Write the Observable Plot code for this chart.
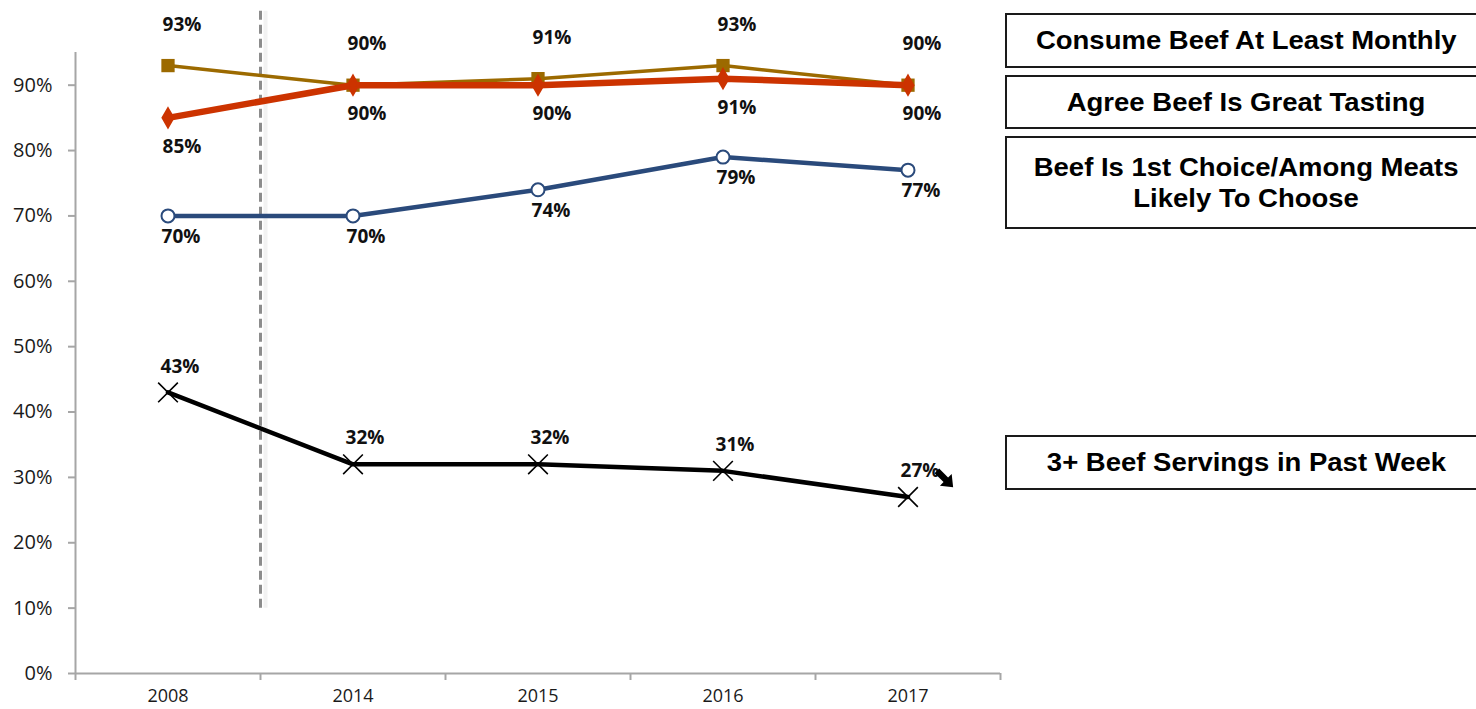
<!DOCTYPE html>
<html>
<head>
<meta charset="utf-8">
<script src="https://cdn.jsdelivr.net/npm/d3@7"></script>
<script src="https://cdn.jsdelivr.net/npm/@observablehq/plot@0.6"></script>
<style>
  html, body { margin: 0; padding: 0; background: #fff; }
  #wrap { position: relative; width: 1476px; height: 709px; overflow: hidden; }
  .box { position: absolute; box-sizing: border-box; border: 2px solid #1a1a1a; background: #fff;
         font-family: "Liberation Sans", Arial, sans-serif; font-weight: bold; font-size: 25px; color: #000;
         display: flex; align-items: center; justify-content: center; text-align: center; line-height: 31px; }
  .box span { display: inline-block; transform: scaleX(1.1); }
</style>
</head>
<body>
<div id="wrap"></div>
<script>
// ---- data ----
const years = ["2008", "2014", "2015", "2016", "2017"];
const consumeMonthly = [0.93, 0.90, 0.91, 0.93, 0.90];
const greatTasting   = [0.85, 0.90, 0.90, 0.91, 0.90];
const firstChoice    = [0.70, 0.70, 0.74, 0.79, 0.77];
const servings3      = [0.43, 0.32, 0.32, 0.31, 0.27];
const yTicks = [0, 0.1, 0.2, 0.3, 0.4, 0.5, 0.6, 0.7, 0.8, 0.9];
const seriesNames = [
  "Consume Beef At Least Monthly",
  "Agree Beef Is Great Tasting",
  "Beef Is 1st Choice/Among Meats<br>Likely To Choose",
  "3+ Beef Servings in Past Week"
];
const breakBetween = 0.5; // boundary between 2008 and 2014

const rows = (vals) => vals.map((v, i) => ({i, year: years[i], v}));
const gold = rows(consumeMonthly), red = rows(greatTasting), blue = rows(firstChoice), black = rows(servings3);
const pct = d3.format(".0%");

// heavy arrow symbol (points right; rotated to point down-right)
const heavyArrow = {
  draw(ctx, size) {
    const s = Math.sqrt(size);
    ctx.moveTo(-0.5 * s, -0.14 * s);
    ctx.lineTo(0.05 * s, -0.14 * s);
    ctx.lineTo(0.05 * s, -0.36 * s);
    ctx.lineTo(0.5 * s, 0);
    ctx.lineTo(0.05 * s, 0.36 * s);
    ctx.lineTo(0.05 * s, 0.14 * s);
    ctx.lineTo(-0.5 * s, 0.14 * s);
    ctx.closePath();
  }
};

const FONT = "'Open Sans', 'Noto Sans', sans-serif";
const lbl = {x: "i", y: "v", text: d => pct(d.v), fontWeight: "bold", fontSize: 19, fontFamily: FONT, fill: "#111"};

const chart = Plot.plot({
  width: 1476, height: 709,
  marginLeft: 75, marginRight: 476, marginTop: 52, marginBottom: 36,
  style: {fontFamily: FONT, color: "#1a1a1a", background: "transparent"},
  x: {type: "linear", domain: [-0.5, 4.5], label: null},
  y: {domain: [0, 0.95], label: null},
  marks: [
    // axes
    Plot.axisY({ticks: yTicks, tickFormat: pct, tickSize: 7, tickPadding: 16, stroke: "#a6a6a6", strokeWidth: 2, fontSize: 20, fill: "#1a1a1a", label: null}),
    Plot.axisX({ticks: d3.range(-0.5, 5, 1), tickFormat: () => "", tickSize: 7, stroke: "#a6a6a6", strokeWidth: 2, label: null}),
    Plot.axisX({ticks: d3.range(0, 5), tickFormat: i => years[i], tickSize: 0, tickPadding: 16, fontSize: 18, fill: "#1a1a1a", label: null}),
    Plot.ruleX([-0.5], {y1: 0, y2: 0.95, stroke: "#a6a6a6", strokeWidth: 2}),
    Plot.ruleY([0], {x1: -0.5, x2: 4.5, stroke: "#a6a6a6", strokeWidth: 2}),
    // break line
    Plot.ruleX([breakBetween], {y1: 0.1, y2: 1.013, stroke: "#f2f2f2", strokeWidth: 4, dx: 5}),
    Plot.ruleX([breakBetween], {y1: 0.1, y2: 1.013, stroke: "#8c8c8c", strokeWidth: 3, strokeDasharray: "9,5"}),
    // lines
    Plot.line(black, {x: "i", y: "v", stroke: "#000", strokeWidth: 4.5}),
    Plot.dot(black, {x: "i", y: "v", symbol: "times", r: 9, stroke: "#000", strokeWidth: 1.6}),
    Plot.line(blue, {x: "i", y: "v", stroke: "#2a4a7b", strokeWidth: 4.5}),
    Plot.dot(blue, {x: "i", y: "v", symbol: "circle", r: 6.5, fill: "#fff", stroke: "#2a4a7b", strokeWidth: 2}),
    Plot.line(gold, {x: "i", y: "v", stroke: "#9c6a00", strokeWidth: 3.5}),
    Plot.dot(gold, {x: "i", y: "v", symbol: "square", r: 7.5, fill: "#9c6a00"}),
    Plot.line(red, {x: "i", y: "v", stroke: "#cc3300", strokeWidth: 6.5}),
    Plot.dot(red, {x: "i", y: "v", symbol: "diamond", r: 5.5, fill: "#cc3300", stroke: "#cc3300", strokeWidth: 2.5, strokeLinejoin: "miter"}),
    // labels
    Plot.text(gold, {...lbl, dx: 14, dy: -41}),
    Plot.text(red, {...lbl, dx: 14, dy: 29}),
    Plot.text(blue, {...lbl, dx: 13, dy: 21}),
    Plot.text(black, {...lbl, dx: 12, dy: -26}),
    // down-trend arrow next to the last value
    Plot.dot([black[black.length - 1]], {x: "i", y: "v", symbol: heavyArrow, r: 13, rotate: 45, fill: "#000", stroke: "none", dx: 37, dy: -18})
  ]
});

const wrap = document.getElementById("wrap");
wrap.appendChild(chart);

// legend boxes
const boxes = [
  {top: 13, height: 55},
  {top: 75, height: 54},
  {top: 136, height: 93},
  {top: 435, height: 55}
];
boxes.forEach((b, k) => {
  const div = document.createElement("div");
  div.className = "box";
  div.style.left = "1005px";
  div.style.width = "482px";
  div.style.top = b.top + "px";
  div.style.height = b.height + "px";
  div.innerHTML = "<span>" + seriesNames[k] + "</span>";
  wrap.appendChild(div);
});
</script>
</body>
</html>
